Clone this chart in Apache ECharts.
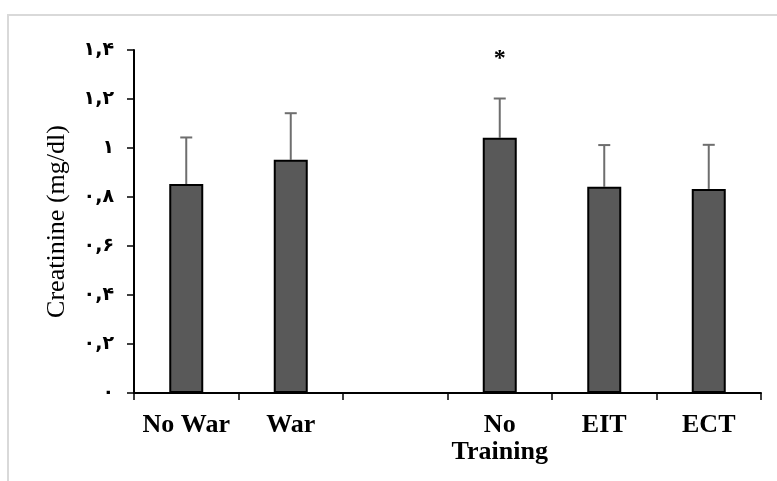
<!DOCTYPE html>
<html>
<head>
<meta charset="utf-8">
<script src="https://cdn.jsdelivr.net/npm/echarts@6/dist/echarts.min.js"></script>
<style>
  html, body { margin: 0; padding: 0; background: #fff; }
  #chart { width: 777px; height: 481px; }
</style>
</head>
<body>
<div id="chart"></div>
<script>
// Group labels (blank slot separates the two comparisons)
const categories = ['No War', 'War', '', 'No\nTraining', 'EIT', 'ECT'];
// Mean creatinine (mg/dl) per group
const means = [0.853, 0.952, null, 1.042, 0.842, 0.833];
// Standard deviation per group (upper whisker)
const sds = [0.19, 0.19, null, 0.16, 0.17, 0.18];
// Significance markers
const marks = ['', '', '', '*', '', ''];
// Y-axis range
const yMin = 0, yMax = 1.4, yStep = 0.2;

const persianDigits = ['۰', '۱', '۲', '۳', '۴', '۵', '۶', '۷', '۸', '۹'];
function toPersian(v) {
  const s = String(Math.round(v * 10) / 10);
  return s.replace(/[0-9]/g, d => persianDigits[+d]).replace('.', ',');
}

const chart = echarts.init(document.getElementById('chart'));

const errorData = means.map((m, i) => [i, m, sds[i], marks[i]]);

chart.setOption({
  animation: false,
  backgroundColor: '#ffffff',
  graphic: [{
    type: 'rect',
    shape: { x: 8, y: 15, width: 800, height: 500 },
    style: { fill: 'none', stroke: '#d9d9d9', lineWidth: 2 },
    silent: true
  }],
  grid: { left: 134, right: 16, top: 50, bottom: 88 },
  xAxis: {
    type: 'category',
    data: categories,
    boundaryGap: true,
    axisLine: { lineStyle: { color: '#000', width: 2 } },
    axisTick: { show: true, length: 7, lineStyle: { color: '#000', width: 1.5 } },
    axisLabel: {
      color: '#000',
      fontFamily: 'Liberation Serif',
      fontWeight: 'bold',
      fontSize: 26,
      lineHeight: 27,
      margin: 19,
      interval: 0
    }
  },
  yAxis: {
    type: 'value',
    min: yMin,
    max: yMax,
    interval: yStep,
    name: 'Creatinine (mg/dl)',
    nameLocation: 'middle',
    nameGap: 64,
    nameTextStyle: {
      color: '#000',
      fontFamily: 'Liberation Serif',
      fontSize: 26
    },
    splitLine: { show: false },
    axisLine: { show: true, lineStyle: { color: '#000', width: 2 } },
    axisTick: { show: true, length: 7, lineStyle: { color: '#000', width: 1.5 } },
    axisLabel: {
      color: '#000',
      fontFamily: 'DejaVu Sans',
      fontWeight: 'bold',
      fontSize: 19,
      margin: 20,
      formatter: v => toPersian(v)
    }
  },
  series: [
    {
      type: 'bar',
      data: means,
      barWidth: 34,
      itemStyle: { color: '#595959', borderColor: '#000', borderWidth: 2 }
    },
    {
      type: 'custom',
      data: errorData,
      z: 1,
      renderItem: function (params, api) {
        const m = api.value(1);
        const sd = api.value(2);
        if (m == null || isNaN(m)) return null;
        const base = api.coord([api.value(0), m]);
        const top = api.coord([api.value(0), m + sd]);
        const cap = 6;
        const children = [
          { type: 'line', shape: { x1: base[0], y1: base[1], x2: top[0], y2: top[1] },
            style: { stroke: '#6e6e6e', lineWidth: 2 } },
          { type: 'line', shape: { x1: top[0] - cap, y1: top[1], x2: top[0] + cap, y2: top[1] },
            style: { stroke: '#6e6e6e', lineWidth: 2 } }
        ];
        const mk = marks[params.dataIndex];
        if (mk) {
          children.push({
            type: 'text',
            style: {
              text: mk, x: top[0], y: top[1] - 40,
              align: 'center', verticalAlign: 'middle',
              fill: '#000', font: 'bold 24px "Liberation Serif"'
            }
          });
        }
        return { type: 'group', children: children };
      }
    }
  ]
});
</script>
</body>
</html>
